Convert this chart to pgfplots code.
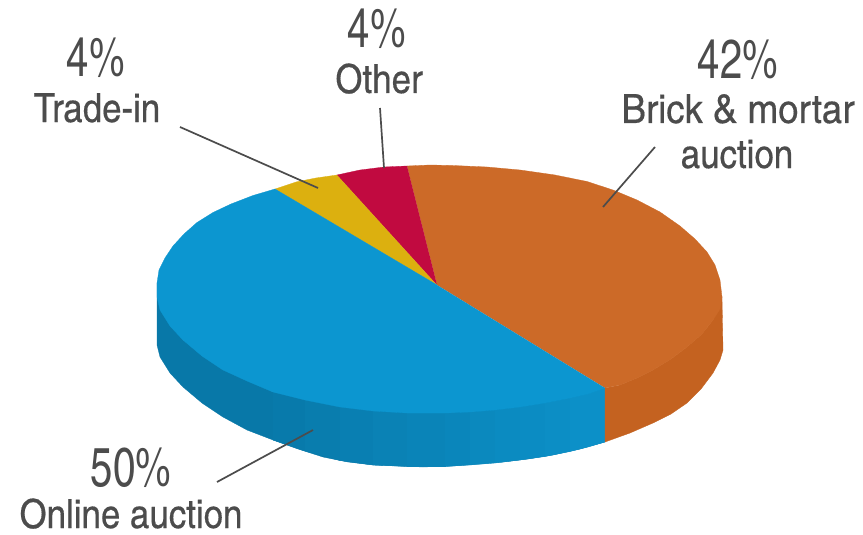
\documentclass[border=0pt]{standalone}
\usepackage{pgfplots}
\pgfplotsset{compat=1.18}
\usepackage{fontspec}
\setmainfont{TeX Gyre Heros Cn}
\newfontfamily\labelface[FakeBold=0.35]{TeX Gyre Heros Cn}
\definecolor{onlineTop}{HTML}{0C96D0}
\definecolor{onlineDark}{HTML}{0878A8}
\definecolor{onlineLight}{HTML}{0C90C8}
\definecolor{brickTop}{HTML}{CC6A28}
\definecolor{brickSide}{HTML}{C46220}
\definecolor{tradeTop}{HTML}{DCB00F}
\definecolor{otherTop}{HTML}{C10A40}
\definecolor{inkGrey}{HTML}{4C4C4C}
\newcommand{\pct}[1]{\scalebox{1}[1.12]{\fontsize{49}{49}\selectfont #1}}
\newcommand{\lab}[1]{\scalebox{1.09}[1.03]{\fontsize{39}{39}\labelface\selectfont #1}}
\begin{document}
\begin{tikzpicture}
\begin{axis}[
  scale only axis, width=863pt, height=535pt,
  xmin=0, xmax=863, ymin=0, ymax=535, y dir=reverse,
  hide axis, clip=false,
]
% page background
\addplot[draw=none, fill=white] coordinates {(0,0) (863,0) (863,535) (0,535)} \closedcycle;

% wall of the online auction slice
\addplot[draw=onlineDark, line width=0.3pt, fill=onlineDark] coordinates {
 (157,283) (157,345) (160,357) (170,373) (183,387) (202,403) (223,417) (247,430) (273,440) (298,449)
 (323,457) (348,462) (373,465) (398,466) (423,467) (453,466) (478,464) (503,462) (528,459) (553,455)
 (580,449) (605,442) (605,388) (570,398) (470,412) (407,413) (273,392) (183,340) (157,297)};
% facets of the same wall, lightening to the right
\addplot[draw=onlineDark!85!onlineLight, line width=0.3pt, fill=onlineDark!90!onlineLight] coordinates {(273,392)(305,400)(305,451)(273,440)};
\addplot[draw=onlineDark!80!onlineLight, line width=0.3pt, fill=onlineDark!80!onlineLight] coordinates {(305,400)(340,407)(340,460.5)(305,451)};
\addplot[draw=onlineDark!70!onlineLight, line width=0.3pt, fill=onlineDark!70!onlineLight] coordinates {(340,407)(373,411)(373,465)(340,460.5)};
\addplot[draw=onlineDark!60!onlineLight, line width=0.3pt, fill=onlineDark!60!onlineLight] coordinates {(373,411)(407,413)(407,466.5)(373,465)};
\addplot[draw=onlineDark!50!onlineLight, line width=0.3pt, fill=onlineDark!50!onlineLight] coordinates {(407,413)(445,413)(445,466.5)(407,466.5)};
\addplot[draw=onlineDark!40!onlineLight, line width=0.3pt, fill=onlineDark!40!onlineLight] coordinates {(445,413)(470,412)(470,465)(445,466.5)};
\addplot[draw=onlineDark!30!onlineLight, line width=0.3pt, fill=onlineDark!30!onlineLight] coordinates {(470,412)(495,410)(495,463)(470,465)};
\addplot[draw=onlineDark!22!onlineLight, line width=0.3pt, fill=onlineDark!22!onlineLight] coordinates {(495,410)(520,407)(520,460)(495,463)};
\addplot[draw=onlineDark!15!onlineLight, line width=0.3pt, fill=onlineDark!15!onlineLight] coordinates {(520,407)(545,403)(545,456.5)(520,460)};
\addplot[draw=onlineDark!8!onlineLight, line width=0.3pt, fill=onlineDark!8!onlineLight] coordinates {(545,403)(570,398)(570,451.5)(545,456.5)};
\addplot[draw=onlineLight, line width=0.3pt, fill=onlineLight] coordinates {(570,398)(588,394)(605,388)(605,442)(588,447)(570,451.5)};

% wall of the brick and mortar slice
\addplot[draw=brickSide, line width=0.3pt, fill=brickSide] coordinates {
 (605,388) (605,442) (630,433) (653,423) (671,414) (687,403) (701,389) (713,373) (720,360) (723,350)
 (722,297) (713,320) (702,334) (687,347) (671,359) (653,370) (637,378) (620,385)};

% top faces
\addplot[draw=brickTop, line width=0.3pt, fill=brickTop] coordinates {
 (437,285) (407,166) (430,165) (453,165.5) (487,167) (520,170) (555,175) (587,181.5) (613,190) (637,200)
 (660,212) (680,226) (695,239) (707,252) (715,265) (720,280) (722,297) (720,309) (713,320) (702,334)
 (687,347) (671,359) (653,370) (637,378) (620,385) (605,388)};
\addplot[draw=otherTop, line width=0.3pt, fill=otherTop] coordinates {
 (437,285) (337,175) (360,170) (384,167) (407,166)};
\addplot[draw=tradeTop, line width=0.3pt, fill=tradeTop] coordinates {
 (437,285) (275,189) (296,182) (316,178) (337,175)};
\addplot[draw=onlineTop, line width=0.3pt, fill=onlineTop] coordinates {
 (437,285) (275,189) (253,195.5) (231,204) (213,212.5) (197,222.5) (184,234) (173,246) (165,258) (159,270)
 (157,283) (157,297) (160,310) (170,326) (183,340) (202,356) (223,370) (247,381) (273,392) (305,400)
 (340,407) (373,411) (407,413) (445,413) (470,412) (495,410) (520,407) (545,403) (570,398) (588,394)
 (605,388)};

% leader lines
\addplot[inkGrey, line width=1.7pt] coordinates {(180,127) (318,188)};
\addplot[inkGrey, line width=1.7pt] coordinates {(380,108) (384,168)};
\addplot[inkGrey, line width=1.7pt] coordinates {(655,147) (603,207)};
\addplot[inkGrey, line width=1.7pt] coordinates {(217,482) (313,430)};

% labels
\node[anchor=base, text=inkGrey, inner sep=0pt] at (axis cs:96,77) {\pct{4\%}};
\node[anchor=base, text=inkGrey, inner sep=0pt] at (axis cs:97,122) {\lab{Trade-in}};
\node[anchor=base, text=inkGrey, inner sep=0pt] at (axis cs:377,48) {\pct{4\%}};
\node[anchor=base, text=inkGrey, inner sep=0pt] at (axis cs:379,93) {\lab{Other}};
\node[anchor=base, text=inkGrey, inner sep=0pt] at (axis cs:738,78) {\pct{42\%}};
\node[anchor=base, text=inkGrey, inner sep=0pt] at (axis cs:738,123) {\scalebox{1.05}[1]{\lab{Brick \& mortar}}};
\node[anchor=base, text=inkGrey, inner sep=0pt] at (axis cs:737,168) {\lab{auction}};
\node[anchor=base, text=inkGrey, inner sep=0pt] at (axis cs:131,486) {\pct{50\%}};
\node[anchor=base, text=inkGrey, inner sep=0pt] at (axis cs:131,528) {\lab{Online auction}};
\end{axis}
\end{tikzpicture}
\end{document}
